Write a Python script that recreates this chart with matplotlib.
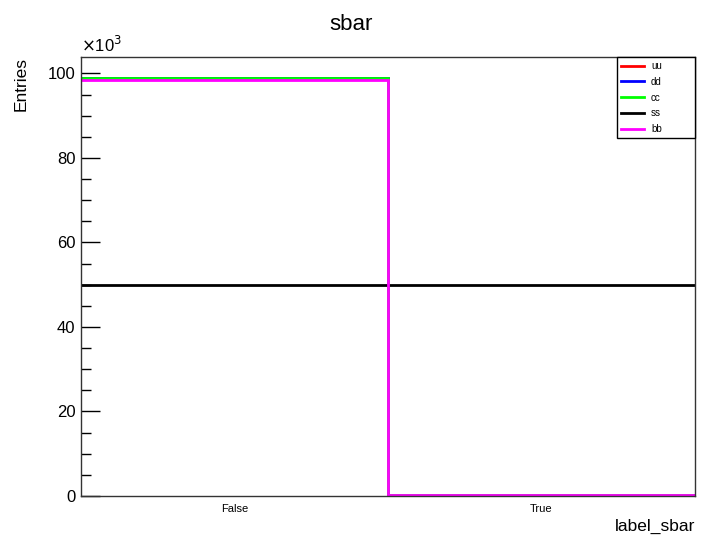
import numpy as np
import matplotlib
matplotlib.use("Agg")
import matplotlib.pyplot as plt
from matplotlib.ticker import MultipleLocator, FuncFormatter

plt.rcParams['font.family'] = ['Liberation Sans', 'DejaVu Sans']

# --- datos ---
categorias = ["False", "True"]
bordes = [0, 1, 2]
muestras = ["uu", "dd", "cc", "ss", "bb"]
colores = ["#ff0000", "#0000ff", "#00ff00", "#000000", "#ff00ff"]
uu = [98900, 200]
dd = [98900, 200]
cc = [98950, 200]
ss = [49900, 49900]
bb = [98500, 200]
valores = [uu, dd, cc, ss, bb]

fig = plt.figure(figsize=(7.02, 5.4), dpi=100)
ax = fig.add_axes([0.1154, 0.0815, 0.8746, 0.8129])

for nombre, vals, col in zip(muestras, valores, colores):
    ax.stairs(vals, bordes, color=col, linewidth=2, label=nombre, baseline=None)

ymax = 1.05 * max(max(v) for v in valores)
ax.set_xlim(0, 2)
ax.set_ylim(0, ymax)

# eje x con etiquetas de bin
ax.set_xticks([0.5, 1.5])
ax.set_xticklabels(categorias, fontsize=8)
ax.tick_params(axis='x', length=0, pad=6)

# eje y estilo ROOT
ax.yaxis.set_major_locator(MultipleLocator(20000))
ax.yaxis.set_minor_locator(MultipleLocator(5000))
ax.yaxis.set_major_formatter(FuncFormatter(lambda v, p: "%d" % round(v / 1000)))
ax.tick_params(axis='y', which='major', direction='in', length=13.5, width=1,
               labelsize=12, pad=4)
ax.tick_params(axis='y', which='minor', direction='in', length=7, width=1)
ax.text(0.0, 1.005, r"$\times$10$^3$", transform=ax.transAxes, fontsize=12,
        ha='left', va='bottom')

for s in ax.spines.values():
    s.set_color('#333333')
    s.set_linewidth(1)

fig.suptitle("sbar", y=0.975, fontsize=16)
ax.set_ylabel("Entries", fontsize=12.5, loc='top', labelpad=14)
ax.set_xlabel("label_sbar", fontsize=12.5, loc='right', labelpad=3)

leg = ax.legend(loc='upper right', bbox_to_anchor=(0.873, 0.815, 0.127, 0.185),
                mode='expand', borderaxespad=0, fancybox=False, edgecolor='black',
                fontsize=7, handlelength=2.4, handletextpad=0.7,
                labelspacing=0.6, borderpad=0.4, framealpha=1)
leg.get_frame().set_linewidth(1)

plt.savefig("out.png", dpi=100)
